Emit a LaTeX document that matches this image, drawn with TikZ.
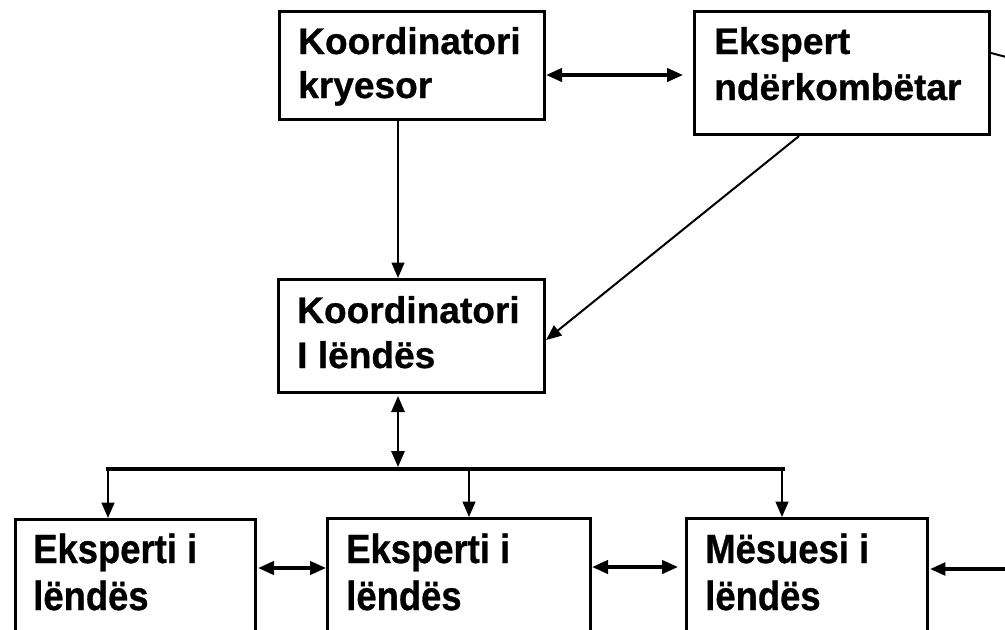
\documentclass[tikz,border=0pt]{standalone}
\usepackage{fontspec}
\setmainfont{Liberation Sans}[BoldFeatures={FakeBold=0.8}]
\usetikzlibrary{arrows.meta,calc}
\begin{document}
\begin{tikzpicture}[x=0.75pt,y=-0.75pt,
  box/.style={draw,line width=2.3pt,inner sep=0pt,anchor=north west},
  txt/.style={anchor=base west,inner sep=0pt,font=\fontsize{27.8}{33}\selectfont\bfseries},
  btxt/.style={anchor=base west,inner sep=0pt,font=\fontsize{27.3}{33}\selectfont\bfseries},
  tip/.style={-{Triangle[length=11.5pt,width=9.5pt]}},
  dtip/.style={{Triangle[length=12pt,width=10pt]}-{Triangle[length=12pt,width=10pt]}},
  thin/.style={line width=1.5pt},
  thick/.style={line width=2.5pt}]
\clip (0,0) rectangle (1005,629);
\fill[white] (0,0) rectangle (1005,629);
% boxes
\node[box,minimum width=265*0.75pt,minimum height=108*0.75pt] (kk) at (278,10) {};
\node[box,minimum width=295*0.75pt,minimum height=123*0.75pt] (ek) at (693,10) {};
\node[box,minimum width=266*0.75pt,minimum height=113*0.75pt] (kl) at (277,278) {};
\node[box,minimum width=240*0.75pt,minimum height=140*0.75pt] (e1) at (14,518) {};
\node[box,minimum width=263*0.75pt,minimum height=140*0.75pt] (e2) at (326,517) {};
\node[box,minimum width=241*0.75pt,minimum height=140*0.75pt] (ml) at (685,517) {};
% texts
\node[txt] (t1a) at (298,54) {Koordinatori};
\node[txt] (t1b) at (298,98) {kryesor};
\node[txt] (t2a) at (714,54) {Ekspert};
\node[txt] (t2b) at (714,100) {ndërkombëtar};
\node[txt] (t3a) at (297,323) {Koordinatori};
\node[txt] (t3b) at (297,368) {I lëndës};
\node[btxt] (t4a) at (33,563) {\scalebox{1}[1.12]{Eksperti i}};
\node[btxt] (t4b) at (33,610) {\scalebox{1}[1.12]{lëndës}};
\node[btxt] (t5a) at (346,563) {\scalebox{1}[1.12]{Eksperti i}};
\node[btxt] (t5b) at (346,610) {\scalebox{1}[1.12]{lëndës}};
\node[btxt] (t6a) at (705,563) {\scalebox{1}[1.12]{Mësuesi i}};
\node[btxt] (t6b) at (705,610) {\scalebox{1}[1.12]{lëndës}};
% coordinates
\coordinate (busL) at (106,469);
\coordinate (busR) at (785,469);
\coordinate (offTop) at (1010,58);
\coordinate (offBot) at (1010,569);
% connectors
\draw[thick,dtip] ($(kk.north east)+(0,65)$) -- ($(ek.north west)+(-10,65)$);
\draw[thin] (ek.east |- 0,53) -- (offTop);
\draw[thin,tip] (kk.south -| 398,0) -- (kl.north -| 398,0);
\draw[thin,tip] (ek.south -| 799,0) -- ($(kl.north east)+(0,62)$);
\draw[thin,dtip] ($(kl.south -| 398,0)+(0,2)$) -- (398,467);
\draw[line width=3pt] (busL) -- (busR);
\draw[thin,tip] (108,469) -- (e1.north -| 108,0);
\draw[thin,tip] (469,469) -- (e2.north -| 469,0);
\draw[thin,tip] (782,469) -- (ml.north -| 782,0);
\draw[thick,dtip] ($(e1.north east)+(1,50)$) -- ($(e2.north west)+(0,51)$);
\draw[thick,dtip] ($(e2.north east)+(0,50)$) -- ($(ml.north west)+(-7,50)$);
\draw[thick,tip] (offBot) -- ($(ml.north east)+(1,52)$);
\end{tikzpicture}
\end{document}
